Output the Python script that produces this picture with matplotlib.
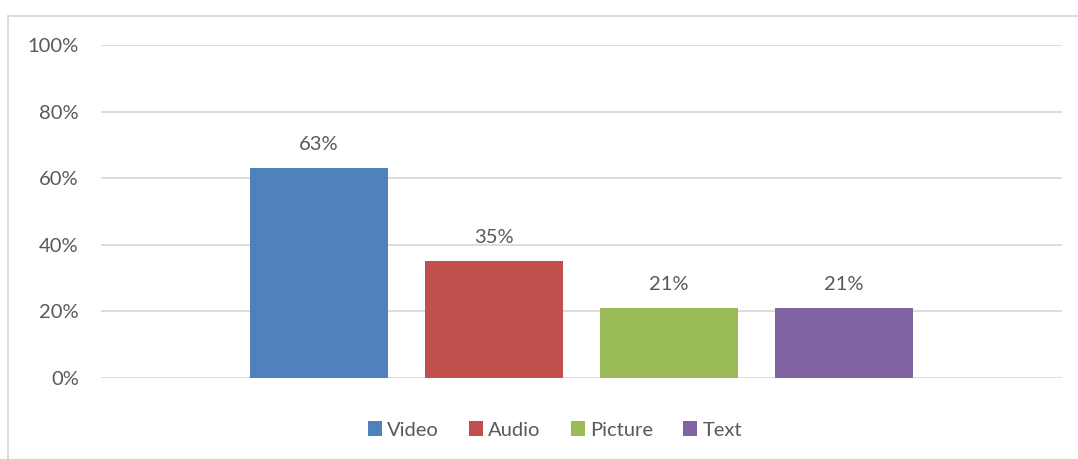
import matplotlib
matplotlib.use("Agg")
import matplotlib.pyplot as plt
from matplotlib.lines import Line2D
from matplotlib.patches import Patch

series = ["Video", "Audio", "Picture", "Text"]
values = [0.63, 0.35, 0.21, 0.21]
labels = ["63%", "35%", "21%", "21%"]
colors = ["#4f81bd", "#c0504d", "#9bbb59", "#8064a2"]
yticks = [0, 0.2, 0.4, 0.6, 0.8, 1.0]
yticklabels = ["0%", "20%", "40%", "60%", "80%", "100%"]

plt.rcParams['font.family'] = ['Lato', 'DejaVu Sans']
txt = "#595959"
fs = 14.5

fig = plt.figure(figsize=(10.78, 4.59), dpi=100)
ax = fig.add_axes([101/1078, 1 - 378/459, (1062-101)/1078, (378-45)/459])

w = 138/961
step = 175/961
for i, (s, v, c, l) in enumerate(zip(series, values, colors, labels)):
    x = (i - 1.5) * step
    ax.bar(x, v, width=w, color=c, label=s, zorder=3)
    ax.text(x, v + 0.045, l, ha="center", va="bottom", fontsize=fs, color=txt)

ax.set_xlim(-0.5, 0.5)
ax.set_ylim(0, 1.0)
ax.set_yticks(yticks)
ax.set_yticklabels(yticklabels, fontsize=fs, color=txt)
ax.set_xticks([])
ax.tick_params(axis="y", length=0, pad=16)
ax.grid(axis="y", color="#d9d9d9", linewidth=1.3, zorder=0)
for sp in ax.spines.values():
    sp.set_visible(False)
ax.set_axisbelow(True)

handles = [Patch(facecolor=c, edgecolor="none") for c in colors]
fig.legend(handles, series, loc="center", bbox_to_anchor=(555/1078, 1 - 430/459),
           ncol=4, frameon=False, fontsize=fs, labelcolor=txt,
           handlelength=0.7, handleheight=0.7, handletextpad=0.25, columnspacing=1.5)

# outer chart border
fig.add_artist(Line2D([7.5/1078, 1.0], [1 - 15.5/459, 1 - 15.5/459], color="#d9d9d9", linewidth=1.3, transform=fig.transFigure))
fig.add_artist(Line2D([7.5/1078, 7.5/1078], [0, 1 - 15.5/459], color="#d9d9d9", linewidth=1.3, transform=fig.transFigure))

fig.savefig("out.png", dpi=100)
